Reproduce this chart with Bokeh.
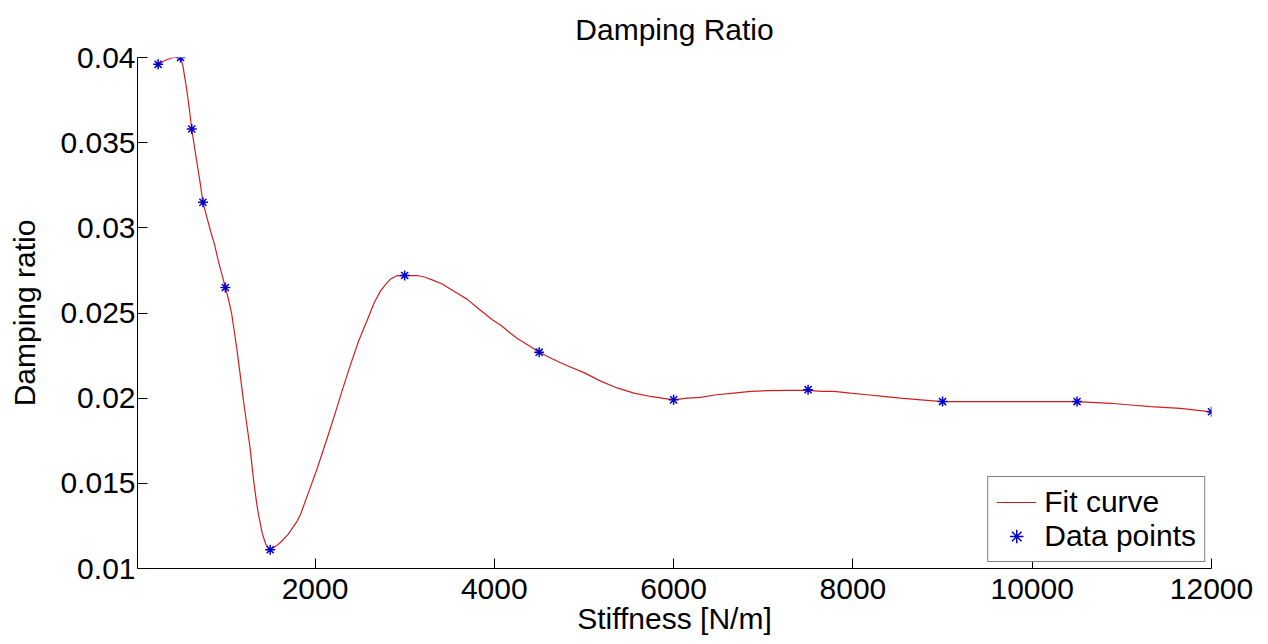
from bokeh.plotting import figure
from bokeh.models import Range1d, FixedTicker, CustomJSTickFormatter, Legend, LegendItem
from bokeh.embed import file_html
from bokeh.resources import INLINE

# ---- data ----
stiffness = [250, 500, 625, 750, 1000, 1500, 3000, 4500, 6000, 7500, 9000, 10500, 12000]
damping = [0.0396, 0.0400, 0.0358, 0.0315, 0.0265, 0.0111, 0.0272, 0.0227,
           0.0199, 0.0205, 0.0198, 0.0198, 0.0192]

fit_x = [250, 300, 350, 400, 450, 480, 500, 525, 550, 575, 600, 625, 660, 690, 720, 750,
         800, 836, 880, 929, 960, 1000, 1035, 1071, 1100, 1126, 1160, 1197, 1235, 1275,
         1319, 1345, 1368, 1390, 1413, 1450, 1480, 1500, 1560, 1617, 1700, 1803, 1840,
         1930, 2026, 2120, 2212, 2300, 2398, 2490, 2584, 2660, 2732, 2790, 2844, 2920,
         3000, 3070, 3141, 3230, 3327, 3420, 3513, 3606, 3699, 3790, 3884, 3977, 4070,
         4160, 4256, 4380, 4500, 4650, 4814, 5000, 5186, 5370, 5557, 5743, 5870, 6000,
         6150, 6301, 6480, 6672, 6860, 7045, 7270, 7500, 7650, 7787, 7970, 8160, 8340,
         8531, 8760, 9000, 9400, 9750, 10100, 10500, 10873, 11100, 11319, 11650, 12000]
fit_y = [0.03957, 0.03975, 0.03988, 0.03997, 0.04002, 0.04003, 0.0400, 0.03955, 0.03875,
         0.0379, 0.0369, 0.0358, 0.0346, 0.0336, 0.0326, 0.0315,
         0.0305, 0.0298, 0.0290, 0.0279, 0.0273, 0.0265, 0.0258, 0.02494, 0.0239, 0.02298,
         0.0216, 0.02005, 0.0186, 0.01711,
         0.0150, 0.0140, 0.0132, 0.01263, 0.01203, 0.01144, 0.0112, 0.0111, 0.0113, 0.01154,
         0.0120, 0.0128, 0.0132,
         0.0145, 0.0159, 0.0174, 0.0189, 0.0204, 0.0220, 0.0234, 0.0246, 0.0256, 0.0263,
         0.0267, 0.0270, 0.0272,
         0.0272, 0.0272, 0.0272, 0.0271, 0.0269, 0.0267, 0.0264, 0.0261, 0.0258, 0.0254,
         0.0250, 0.0246, 0.0243,
         0.0239, 0.0235, 0.0231, 0.0227, 0.0223, 0.0219, 0.0215, 0.0210, 0.0206, 0.0203,
         0.0201, 0.0200, 0.0199,
         0.0200, 0.02005, 0.0202, 0.0203, 0.0204, 0.02044, 0.02046, 0.02046, 0.0204, 0.0204,
         0.0203, 0.0202, 0.0201,
         0.0200, 0.0199, 0.0198, 0.0198, 0.0198, 0.0198, 0.0198, 0.0197, 0.0196, 0.0195,
         0.0194, 0.0192]

x_ticks = [2000, 4000, 6000, 8000, 10000, 12000]
y_ticks = [0.01, 0.015, 0.02, 0.025, 0.03, 0.035, 0.04]

title_text = "Damping Ratio"
x_label = "Stiffness [N/m]"
y_label = "Damping ratio"
legend_labels = ["Fit curve", "Data points"]

FONT = "Liberation Sans"
FS = "30px"

p = figure(width=1260, height=640, output_backend="svg", toolbar_location=None,
           x_range=Range1d(20, 12000), y_range=Range1d(0.01, 0.04),
           min_border_left=137, min_border_right=49, min_border_top=57, min_border_bottom=72)
p.outline_line_color = None
p.grid.visible = False
p.background_fill_color = "white"
p.border_fill_color = "white"

p.title.text = title_text
p.title.align = "center"
p.title.vertical_align = "top"
p.title.text_font = FONT
p.title.text_font_size = FS
p.title.text_font_style = "normal"
p.title.text_color = "black"
p.title.standoff = 20

fmt = CustomJSTickFormatter(code="return tick.toString();")
for ax, ticks, lab in ((p.xaxis[0], x_ticks, x_label), (p.yaxis[0], y_ticks, y_label)):
    ax.ticker = FixedTicker(ticks=ticks)
    ax.formatter = fmt
    ax.axis_label = lab
    ax.axis_label_text_font = FONT
    ax.axis_label_text_font_size = FS
    ax.axis_label_text_font_style = "normal"
    ax.axis_label_text_color = "black"
    ax.major_label_text_font = FONT
    ax.major_label_text_font_size = FS
    ax.major_label_text_color = "black"
    ax.major_tick_in = 10
    ax.major_tick_out = 0
    ax.minor_tick_in = 0
    ax.minor_tick_out = 0
    ax.axis_line_color = "black"
    ax.major_tick_line_color = "black"

p.xaxis[0].major_label_standoff = 10
p.xaxis[0].axis_label_standoff = 0
p.yaxis[0].major_label_standoff = 2
p.yaxis[0].axis_label_standoff = 16

line = p.line(fit_x, fit_y, line_color="#cc2020", line_width=1.2)
pts = p.scatter(stiffness, damping, marker="asterisk", size=10,
                line_color="#0000cc", line_width=1.5)

legend = Legend(items=[LegendItem(label=legend_labels[0], renderers=[line]),
                       LegendItem(label=legend_labels[1], renderers=[pts])],
                location="bottom_right")
legend.label_text_font = FONT
legend.label_text_font_size = FS
legend.label_text_color = "black"
legend.border_line_color = "black"
legend.border_line_width = 1
legend.background_fill_color = "white"
legend.background_fill_alpha = 1
legend.glyph_width = 40
legend.glyph_height = 34
legend.label_height = 34
legend.label_standoff = 8
legend.padding = 8
legend.spacing = 0
legend.margin = 6
p.add_layout(legend)

open("out.html", "w").write(file_html(p, INLINE))
